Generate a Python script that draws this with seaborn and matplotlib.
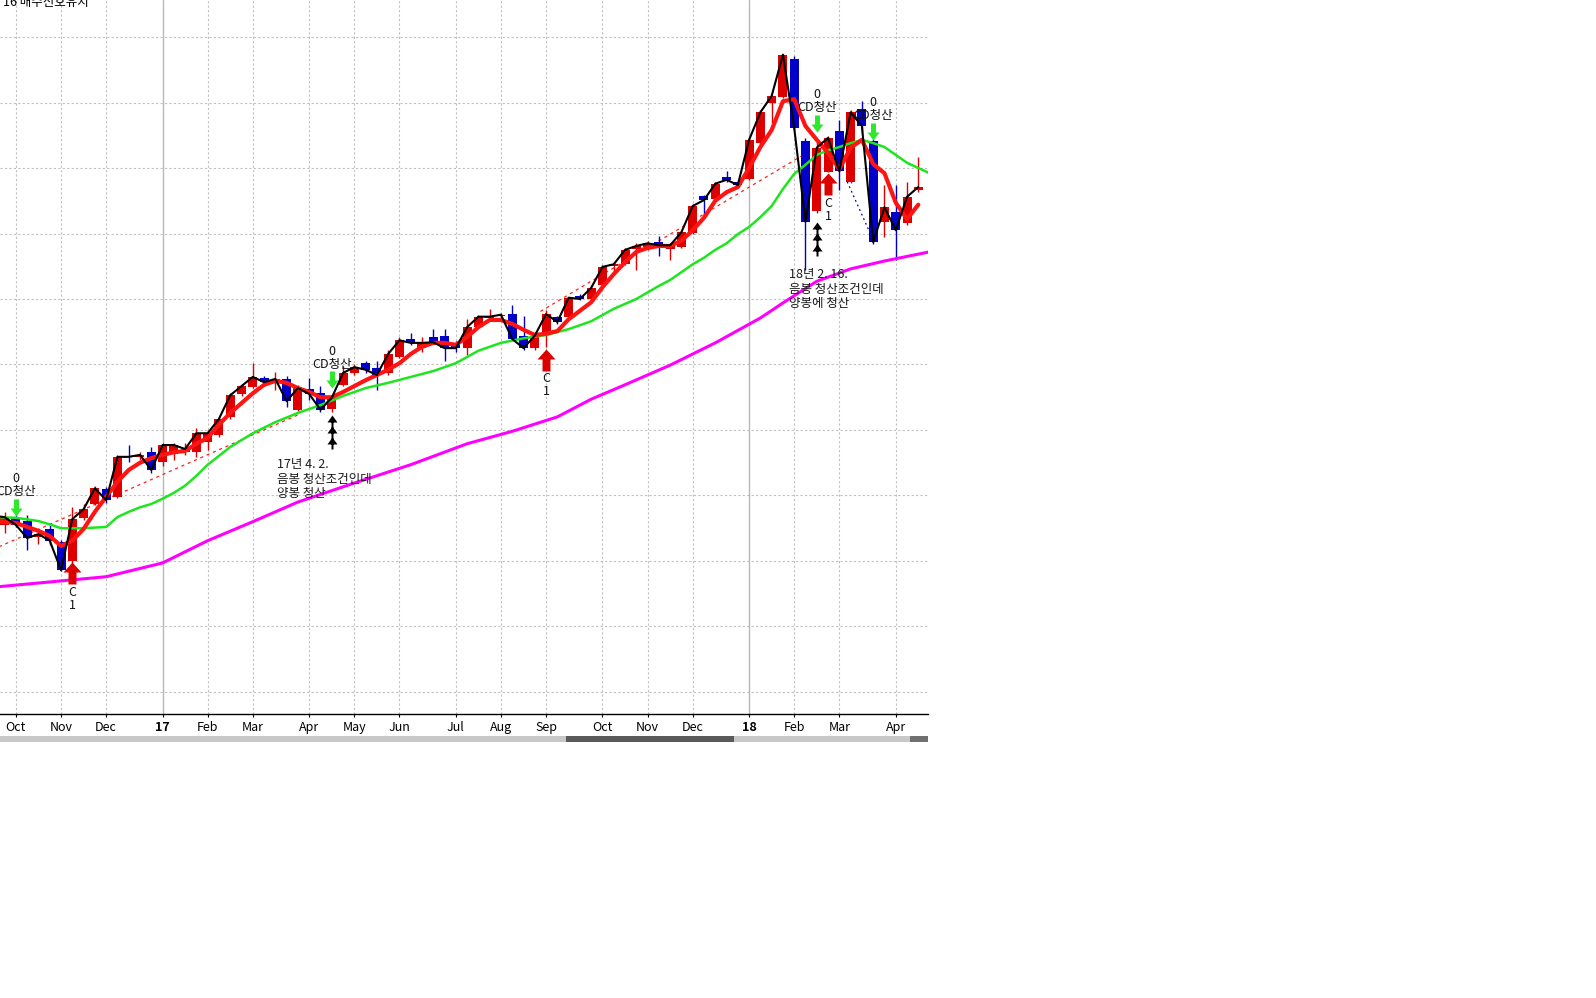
import numpy as np
import pandas as pd
import matplotlib
matplotlib.use("Agg")
import matplotlib.pyplot as plt
import seaborn as sns
from matplotlib.path import Path
from matplotlib.patches import Rectangle

# weekly bars, week -1 sits just left of the visible area
opens = [12630, 12550, 12660, 12610, 12370, 12490, 12290, 12000, 12660, 12870,
         13100, 12980, 13600, 13590, 13660, 13510, 13630, 13660, 13660, 13820,
         13920, 14200, 14550, 14660, 14790, 14730, 14780, 14310, 14630, 14560,
         14320, 14690, 14870, 15020, 14950, 14870, 15110, 15390, 15250, 15420,
         15440, 15330, 15250, 15570, 15710, 15740, 15770, 15440, 15250, 15480,
         15730, 15730, 16050, 16000, 16210, 16500, 16530, 16760, 16790, 16870,
         16760, 16790, 17010, 17570, 17530, 17860, 17790, 17830, 18380, 18990,
         19080, 19660, 18410, 17340, 17940, 18560, 17790, 18900, 18410, 17180,
         17330, 17160, 17660]
highs = [12700, 12750, 12700, 12700, 12470, 12550, 12320, 12820, 12870, 13150,
         13130, 13620, 13770, 13660, 13740, 13800, 13800, 13800, 14030, 14000,
         14200, 14560, 14700, 15020, 14820, 14890, 14820, 14690, 14790, 14670,
         14500, 14980, 15010, 15050, 15050, 15220, 15420, 15480, 15420, 15540,
         15540, 15360, 15690, 15760, 15850, 15790, 15910, 15740, 15500, 15830,
         15740, 16030, 16080, 16210, 16520, 16560, 16780, 16850, 16890, 16960,
         16850, 17050, 17450, 17590, 17790, 17950, 17820, 18460, 18890, 19110,
         19740, 19710, 18460, 18400, 18490, 18730, 18890, 19020, 18440, 17740,
         17740, 17790, 18170]
lows = [12500, 12430, 12520, 12170, 12260, 12240, 11850, 11970, 12630, 12850,
        12890, 12960, 13510, 13540, 13340, 13450, 13540, 13620, 13590, 13690,
        13890, 14170, 14520, 14640, 14670, 14610, 14350, 14290, 14460, 14270,
        14270, 14670, 14840, 14870, 14610, 14840, 15100, 15300, 15190, 15310,
        15050, 15190, 15150, 15560, 15660, 15710, 15370, 15220, 15220, 15270,
        15620, 15710, 15980, 15970, 16140, 16400, 16520, 16440, 16750, 16660,
        16600, 16780, 16990, 17250, 17510, 17790, 17710, 17820, 18350, 18690,
        19070, 18580, 16440, 17310, 17940, 17660, 17770, 18530, 16840, 16950,
        16600, 17130, 17630]
closes = [12690, 12670, 12550, 12350, 12410, 12310, 11860, 12640, 12790, 13110,
          12930, 13590, 13590, 13620, 13390, 13770, 13770, 13710, 13950, 13950,
          14170, 14530, 14670, 14810, 14730, 14780, 14440, 14640, 14550, 14310,
          14490, 14870, 14960, 14920, 14840, 15160, 15370, 15330, 15330, 15340,
          15250, 15250, 15570, 15730, 15730, 15760, 15390, 15250, 15440, 15770,
          15650, 16020, 16000, 16170, 16490, 16530, 16750, 16810, 16850, 16820,
          16820, 17020, 17420, 17510, 17760, 17820, 17740, 18430, 18850, 19100,
          19730, 18610, 17180, 18310, 18460, 17950, 18850, 18640, 16870, 17400,
          17050, 17560, 17710]
ma_short = [12610, 12600, 12580, 12520, 12460, 12380, 12230, 12310, 12490, 12750,
            12980, 13210, 13390, 13500, 13570, 13620, 13660, 13680, 13790, 13880,
            14080, 14260, 14410, 14560, 14690, 14750, 14720, 14640, 14580, 14500,
            14500, 14580, 14670, 14760, 14840, 14920, 15020, 15160, 15270, 15330,
            15330, 15300, 15420, 15570, 15680, 15680, 15620, 15530, 15450, 15470,
            15510, 15690, 15820, 15950, 16180, 16380, 16560, 16720, 16780, 16810,
            16810, 16890, 17050, 17240, 17500, 17630, 17710, 18000, 18320, 18580,
            19020, 19050, 18640, 18430, 18230, 17980, 18310, 18430, 18060, 17920,
            17470, 17220, 17440]

# slower averages, read at fewer weeks
ma_mid_wk = [-1, 1, 3, 4, 5, 7, 9, 10, 11, 12, 13, 14, 15, 16, 17, 18, 20, 22, 24, 26,
             28, 30, 32, 34, 36, 38, 40, 42, 44, 46, 48, 50, 52, 54, 56, 58, 59, 60, 61, 62,
             63, 64, 65, 66, 67, 68, 69, 70, 71, 72, 73, 74, 75, 76, 77, 78, 79, 80, 81, 82]
ma_mid = [12670, 12660, 12610, 12560, 12500, 12500, 12520, 12670, 12750, 12820,
          12870, 12950, 13040, 13150, 13300, 13470, 13740, 13950, 14120, 14260,
          14380, 14520, 14640, 14720, 14810, 14900, 15020, 15210, 15330, 15400,
          15450, 15540, 15660, 15850, 16000, 16200, 16290, 16410, 16530, 16630,
          16750, 16850, 16990, 17100, 17250, 17420, 17680, 17910, 18050, 18200,
          18270, 18320, 18380, 18430, 18380, 18320, 18200, 18080, 18000, 17920]
ma_long_wk = [-1, 4, 9, 14, 18, 22, 26, 31, 36, 41, 45, 49, 52, 55, 59, 63, 67, 69, 72, 75, 78, 82]
ma_long = [11600, 11680, 11760, 11970, 12310, 12600, 12900, 13190, 13470, 13790, 13980,
           14200, 14470, 14690, 14990, 15330, 15710, 15940, 16270, 16460, 16580, 16720]

trend1_wk, trend1 = [-1, 26], [12180, 14230]
trend2_wk, trend2 = [47.5, 71.1], [15810, 18230]
down_wk, down_line = [74.7, 77.0], [17790, 16900]

# signals
exit_wk = [1, 29, 72, 77]
exit_at = [12690, 14640, 18550, 18430]
buy_wk = [6, 48, 73]
buy_at = [11980, 15240, 17920]
mark_wk = [29, 72]
mark_at = [14230, 17180]
notes = ["17년 4. 2.\n음봉 청산조건인데\n양봉 청산", "18년 2. 16.\n음봉 청산조건인데\n양봉에 청산"]
note_wk = [24.15, 69.5]
note_at = [13250, 16150]

month_wk = [1, 5, 9, 14, 18, 22, 27, 31, 35, 40, 44, 48, 53, 57, 61, 66, 70, 74, 79]
month_lbl = ["Oct", "Nov", "Dec", "17", "Feb", "Mar", "Apr", "May", "Jun", "Jul",
             "Aug", "Sep", "Oct", "Nov", "Dec", "18", "Feb", "Mar", "Apr"]
year_lbl = ["17", "18"]

RED = "#dc0000"
BLUE = "#0000c8"
PX = 0.72  # points per pixel at dpi 100

sns.set_theme(style="white")
plt.rcParams["font.family"] = ["Noto Sans CJK KR", "DejaVu Sans"]

df = pd.DataFrame({"open": opens, "high": highs, "low": lows, "close": closes, "ma": ma_short})
df["week"] = np.arange(-1, len(df) - 1)

W, H = 1596, 998
fig = plt.figure(figsize=(W / 100, H / 100), dpi=100)
fig.patch.set_facecolor("white")
ax = fig.add_axes([0, 1 - 714 / H, 928 / W, 714 / H])
ax.set_facecolor("white")

# grid
for p in np.arange(10000, 20001, 1000):
    ax.axhline(p, color="#c0c0c0", lw=0.8, ls=(0, (2, 2)), zorder=0)
for wk, lb in zip(month_wk, month_lbl):
    if lb in year_lbl:
        ax.axvline(wk, color="#b8b8b8", lw=1.0, zorder=0)
    else:
        ax.axvline(wk, color="#c0c0c0", lw=0.8, ls=(0, (2, 2)), zorder=0)

# candles
up = df["close"] >= df["open"]
col = np.where(up, RED, BLUE)
lo = df[["open", "close"]].min(axis=1)
hgt = (df["close"] - df["open"]).abs().clip(lower=15)
ax.vlines(df["week"], df["low"], df["high"], colors=col, lw=1.0, zorder=2)
ax.bar(df["week"], hgt, bottom=lo, width=0.8, color=col, linewidth=0, zorder=2.5)

# trend lines
sns.lineplot(x=trend1_wk, y=trend1, ax=ax, color="#ff2020", lw=0.9, linestyle=(0, (2.5, 3)), zorder=1.8)
sns.lineplot(x=trend2_wk, y=trend2, ax=ax, color="#ff2020", lw=0.9, linestyle=(0, (2.5, 3)), zorder=1.8)
sns.lineplot(x=down_wk, y=down_line, ax=ax, color="#0000d0", lw=0.9, linestyle=(0, (1.5, 2.5)), zorder=1.8)

# averages and close line
sns.lineplot(x=ma_long_wk, y=ma_long, ax=ax, color="#ff00ff", lw=2.2, zorder=3)
sns.lineplot(x=ma_mid_wk, y=ma_mid, ax=ax, color="#1ee61e", lw=1.8, zorder=4)
sns.lineplot(data=df, x="week", y="ma", ax=ax, color="#ff1414", lw=3.0, zorder=5)
sns.lineplot(data=df, x="week", y="close", ax=ax, color="black", lw=1.5, zorder=6)
ax.set_xlabel("")
ax.set_ylabel("")


def poly_path(polys):
    verts, codes = [], []
    for poly in polys:
        verts += poly + [poly[0]]
        codes += [Path.MOVETO] + [Path.LINETO] * (len(poly) - 1) + [Path.CLOSEPOLY]
    return Path(verts, codes)


green_arrow = poly_path([[(0, 0), (-6, 8), (-2.5, 8), (-2.5, 17), (2.5, 17), (2.5, 8), (6, 8)]])
red_arrow = poly_path([[(0, 0), (9, -10), (4, -10), (4, -22), (-4, -22), (-4, -10), (-9, -10)]])
black_arrow = poly_path([[(0, 0), (5, -7), (-5, -7)],
                         [(0, -11), (5, -18), (-5, -18)],
                         [(0, -22), (5, -29), (-5, -29)],
                         [(-1, -3), (1, -3), (1, -34), (-1, -34)]])

ax.plot(exit_wk, exit_at, ls="none", marker=green_arrow, ms=1.44 * 17, color="#2ee82e", mew=0, zorder=7)
ax.plot(buy_wk, buy_at, ls="none", marker=red_arrow, ms=1.44 * 22, color=RED, mew=0, zorder=7)
ax.plot(mark_wk, mark_at, ls="none", marker=black_arrow, ms=1.44 * 34, color="black", mew=0, zorder=7)

txt = dict(textcoords="offset points", ha="center", va="center", fontsize=9, color="#111111", zorder=8)
for wk, p in zip(exit_wk, exit_at):
    ax.annotate("0", (wk, p), xytext=(0, 37 * PX), **txt)
    ax.annotate("CD청산", (wk, p), xytext=(0, 24 * PX), **txt)
for wk, p in zip(buy_wk, buy_at):
    ax.annotate("C", (wk, p), xytext=(0, -30 * PX), **txt)
    ax.annotate("1", (wk, p), xytext=(0, -43 * PX), **txt)
for s, wk, p in zip(notes, note_wk, note_at):
    ax.text(wk, p, s, ha="left", va="center", fontsize=9, linespacing=1.15, color="#1a1a1a", zorder=8)

ax.set_xlim(-0.41, 81.86)
ax.set_ylim(9664, 20565)
ax.set_yticks([])
ax.set_xticks(month_wk)
ax.set_xticklabels(month_lbl, fontsize=9)
for t in ax.get_xticklabels():
    if t.get_text() in year_lbl:
        t.set_fontweight("bold")
ax.tick_params(axis="x", direction="out", length=2.2, width=0.8, pad=2.5, colors="black", bottom=True)
for s in ["top", "right", "left"]:
    ax.spines[s].set_visible(False)
ax.spines["bottom"].set_color("black")
ax.spines["bottom"].set_linewidth(1.0)

fig.text(3 / W, 1.004, "16 매수신호유지", ha="left", va="top", fontsize=9, color="black")

# scroll bar under the axis
y0, hh = 1 - 742 / H, 6 / H
fig.add_artist(Rectangle((0, y0), 928 / W, hh, transform=fig.transFigure, color="#c8c8c8", lw=0))
fig.add_artist(Rectangle((566 / W, y0), 168 / W, hh, transform=fig.transFigure, color="#5a5a5a", lw=0))
fig.add_artist(Rectangle((910 / W, y0), 18 / W, hh, transform=fig.transFigure, color="#707070", lw=0))

fig.savefig("out.png", dpi=100, facecolor="white")
